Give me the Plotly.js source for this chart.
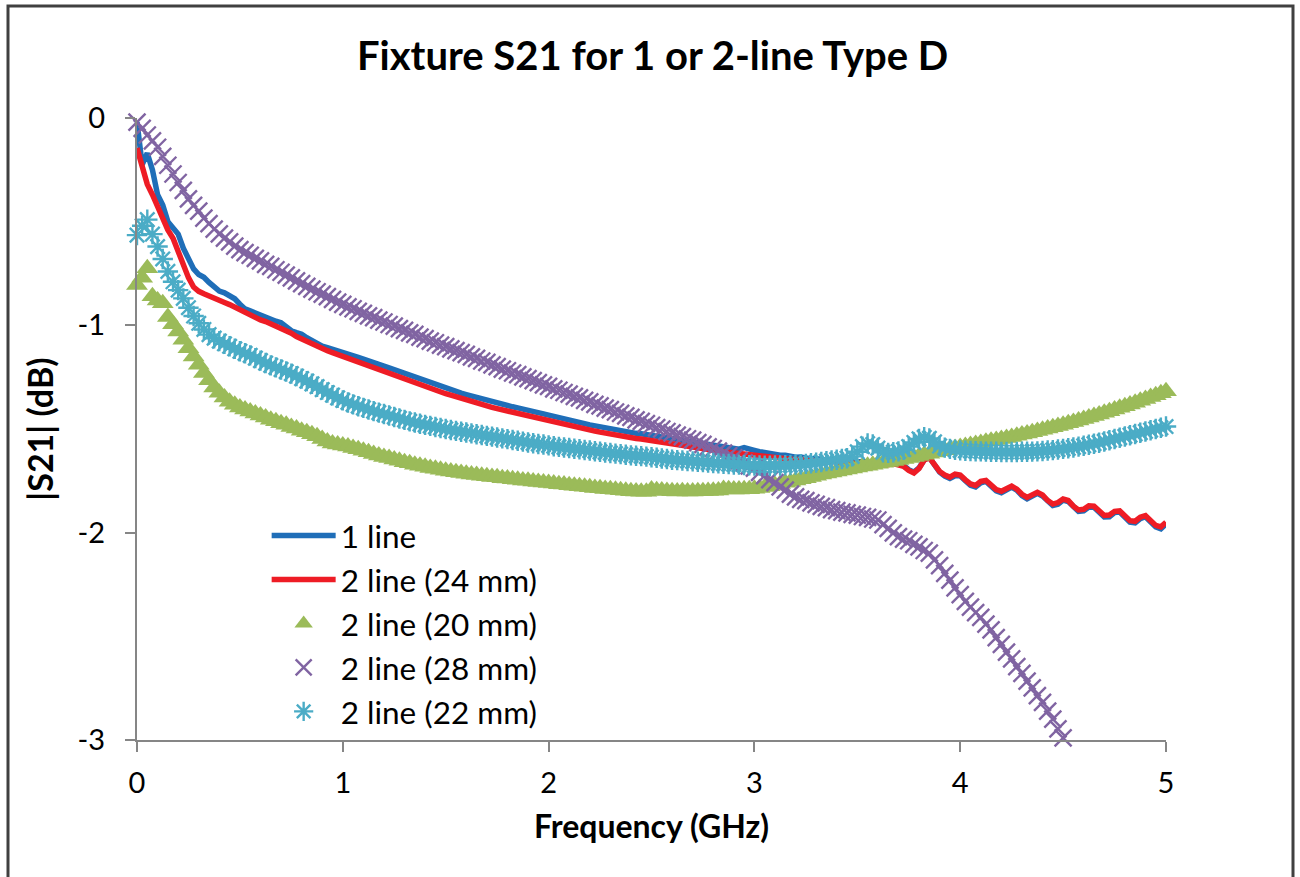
<!DOCTYPE html>
<html>
<head>
<meta charset="utf-8">
<script src="https://cdn.plot.ly/plotly-3.0.1.min.js"></script>
<style>
html,body{margin:0;padding:0;background:#fff;}
#chart{width:1300px;height:877px;}
</style>
</head>
<body>
<div id="chart"></div>
<script>
// Frequency (GHz)
const freq = [
0,0.025,0.05,0.075,0.1,0.125,0.15,0.175,0.2,0.225,
0.25,0.275,0.3,0.325,0.35,0.375,0.4,0.425,0.45,0.475,
0.5,0.525,0.55,0.575,0.6,0.625,0.65,0.675,0.7,0.725,
0.75,0.775,0.8,0.825,0.85,0.875,0.9,0.925,0.95,0.975,
1,1.025,1.05,1.075,1.1,1.125,1.15,1.175,1.2,1.225,
1.25,1.275,1.3,1.325,1.35,1.375,1.4,1.425,1.45,1.475,
1.5,1.525,1.55,1.575,1.6,1.625,1.65,1.675,1.7,1.725,
1.75,1.775,1.8,1.825,1.85,1.875,1.9,1.925,1.95,1.975,
2,2.025,2.05,2.075,2.1,2.125,2.15,2.175,2.2,2.225,
2.25,2.275,2.3,2.325,2.35,2.375,2.4,2.425,2.45,2.475,
2.5,2.525,2.55,2.575,2.6,2.625,2.65,2.675,2.7,2.725,
2.75,2.775,2.8,2.825,2.85,2.875,2.9,2.925,2.95,2.975,
3,3.025,3.05,3.075,3.1,3.125,3.15,3.175,3.2,3.225,
3.25,3.275,3.3,3.325,3.35,3.375,3.4,3.425,3.45,3.475,
3.5,3.525,3.55,3.575,3.6,3.625,3.65,3.675,3.7,3.725,
3.75,3.775,3.8,3.825,3.85,3.875,3.9,3.925,3.95,3.975,
4,4.025,4.05,4.075,4.1,4.125,4.15,4.175,4.2,4.225,
4.25,4.275,4.3,4.325,4.35,4.375,4.4,4.425,4.45,4.475,
4.5,4.525,4.55,4.575,4.6,4.625,4.65,4.675,4.7,4.725,
4.75,4.775,4.8,4.825,4.85,4.875,4.9,4.925,4.95,4.975,
5];

// |S21| (dB) — 1 line
const s21_1line = [
-0.020,-0.225,-0.170,-0.250,-0.370,-0.420,-0.500,-0.527,-0.560,-0.628,
-0.685,-0.728,-0.755,-0.768,-0.793,-0.818,-0.835,-0.843,-0.855,-0.872,
-0.898,-0.921,-0.930,-0.940,-0.951,-0.965,-0.975,-0.980,-0.987,-1.008,
-1.026,-1.035,-1.043,-1.060,-1.075,-1.088,-1.100,-1.107,-1.114,-1.122,
-1.130,-1.138,-1.147,-1.154,-1.163,-1.170,-1.178,-1.187,-1.197,-1.205,
-1.214,-1.223,-1.233,-1.241,-1.251,-1.262,-1.270,-1.278,-1.287,-1.296,
-1.304,-1.311,-1.319,-1.327,-1.334,-1.341,-1.349,-1.357,-1.364,-1.371,
-1.377,-1.383,-1.388,-1.393,-1.398,-1.405,-1.411,-1.417,-1.422,-1.427,
-1.433,-1.438,-1.443,-1.449,-1.455,-1.461,-1.468,-1.474,-1.480,-1.485,
-1.490,-1.495,-1.500,-1.506,-1.512,-1.516,-1.520,-1.521,-1.523,-1.527,
-1.533,-1.536,-1.538,-1.545,-1.551,-1.555,-1.558,-1.562,-1.566,-1.568,
-1.571,-1.576,-1.580,-1.584,-1.587,-1.590,-1.594,-1.597,-1.590,-1.599,
-1.603,-1.609,-1.614,-1.618,-1.623,-1.627,-1.627,-1.632,-1.636,-1.635,
-1.640,-1.644,-1.642,-1.648,-1.651,-1.647,-1.653,-1.656,-1.652,-1.657,
-1.660,-1.656,-1.661,-1.664,-1.660,-1.663,-1.667,-1.663,-1.667,-1.676,
-1.696,-1.708,-1.688,-1.648,-1.637,-1.676,-1.708,-1.727,-1.738,-1.726,
-1.726,-1.750,-1.771,-1.779,-1.760,-1.753,-1.773,-1.798,-1.807,-1.793,
-1.780,-1.795,-1.821,-1.837,-1.826,-1.810,-1.823,-1.851,-1.869,-1.863,
-1.843,-1.850,-1.878,-1.897,-1.895,-1.876,-1.877,-1.903,-1.924,-1.923,
-1.903,-1.900,-1.926,-1.949,-1.953,-1.932,-1.923,-1.946,-1.972,-1.981,
-1.958];

// 2 line (24 mm)
const s21_24mm = [
-0.145,-0.240,-0.320,-0.370,-0.425,-0.495,-0.540,-0.580,-0.645,-0.712,
-0.770,-0.815,-0.836,-0.848,-0.860,-0.872,-0.882,-0.890,-0.900,-0.913,
-0.926,-0.938,-0.951,-0.963,-0.974,-0.982,-0.992,-1.005,-1.015,-1.023,
-1.038,-1.054,-1.066,-1.079,-1.092,-1.103,-1.112,-1.122,-1.132,-1.141,
-1.150,-1.160,-1.170,-1.178,-1.188,-1.196,-1.205,-1.214,-1.225,-1.233,
-1.242,-1.252,-1.262,-1.270,-1.280,-1.290,-1.297,-1.305,-1.313,-1.322,
-1.330,-1.337,-1.345,-1.353,-1.360,-1.367,-1.375,-1.383,-1.390,-1.396,
-1.402,-1.408,-1.413,-1.418,-1.423,-1.430,-1.436,-1.442,-1.447,-1.452,
-1.458,-1.463,-1.468,-1.474,-1.480,-1.486,-1.493,-1.499,-1.505,-1.510,
-1.515,-1.520,-1.525,-1.531,-1.537,-1.541,-1.545,-1.546,-1.548,-1.552,
-1.558,-1.561,-1.563,-1.570,-1.576,-1.580,-1.583,-1.587,-1.591,-1.593,
-1.596,-1.601,-1.605,-1.608,-1.610,-1.612,-1.615,-1.617,-1.618,-1.620,
-1.622,-1.627,-1.631,-1.634,-1.638,-1.641,-1.640,-1.645,-1.648,-1.646,
-1.651,-1.654,-1.652,-1.657,-1.660,-1.656,-1.661,-1.664,-1.660,-1.664,
-1.667,-1.663,-1.667,-1.670,-1.666,-1.668,-1.672,-1.667,-1.671,-1.680,
-1.700,-1.712,-1.690,-1.650,-1.638,-1.675,-1.705,-1.722,-1.732,-1.718,
-1.722,-1.745,-1.765,-1.772,-1.752,-1.748,-1.768,-1.792,-1.800,-1.785,
-1.775,-1.790,-1.815,-1.830,-1.818,-1.805,-1.818,-1.845,-1.862,-1.855,
-1.838,-1.845,-1.872,-1.890,-1.887,-1.870,-1.872,-1.897,-1.917,-1.915,
-1.897,-1.895,-1.920,-1.942,-1.945,-1.925,-1.918,-1.940,-1.965,-1.972,
-1.950];

// 2 line (20 mm)
const s21_20mm = [
-0.805,-0.770,-0.725,-0.860,-0.880,-0.893,-0.960,-0.995,-1.030,-1.070,
-1.110,-1.150,-1.190,-1.230,-1.265,-1.300,-1.325,-1.348,-1.368,-1.383,
-1.396,-1.406,-1.415,-1.425,-1.435,-1.445,-1.455,-1.463,-1.472,-1.480,
-1.490,-1.498,-1.508,-1.516,-1.525,-1.535,-1.548,-1.560,-1.570,-1.575,
-1.580,-1.585,-1.592,-1.598,-1.605,-1.612,-1.620,-1.628,-1.635,-1.640,
-1.647,-1.653,-1.660,-1.665,-1.672,-1.677,-1.682,-1.688,-1.692,-1.697,
-1.701,-1.705,-1.709,-1.712,-1.716,-1.720,-1.722,-1.726,-1.728,-1.731,
-1.733,-1.737,-1.739,-1.742,-1.745,-1.748,-1.750,-1.753,-1.756,-1.758,
-1.760,-1.763,-1.766,-1.768,-1.771,-1.774,-1.776,-1.779,-1.781,-1.784,
-1.786,-1.789,-1.791,-1.793,-1.796,-1.798,-1.800,-1.802,-1.803,-1.803,
-1.792,-1.795,-1.797,-1.799,-1.800,-1.801,-1.800,-1.802,-1.801,-1.800,
-1.800,-1.799,-1.798,-1.797,-1.789,-1.791,-1.792,-1.792,-1.791,-1.790,
-1.788,-1.784,-1.780,-1.776,-1.770,-1.765,-1.759,-1.754,-1.748,-1.742,
-1.737,-1.731,-1.726,-1.720,-1.715,-1.710,-1.705,-1.700,-1.695,-1.690,
-1.686,-1.681,-1.677,-1.672,-1.668,-1.663,-1.659,-1.654,-1.650,-1.645,
-1.640,-1.635,-1.630,-1.624,-1.619,-1.613,-1.607,-1.602,-1.597,-1.592,
-1.587,-1.582,-1.577,-1.572,-1.567,-1.562,-1.557,-1.553,-1.548,-1.543,
-1.538,-1.533,-1.527,-1.522,-1.516,-1.510,-1.504,-1.498,-1.492,-1.486,
-1.479,-1.472,-1.466,-1.459,-1.452,-1.444,-1.437,-1.430,-1.422,-1.414,
-1.406,-1.398,-1.390,-1.382,-1.373,-1.364,-1.355,-1.346,-1.337,-1.327,
-1.318];

// 2 line (28 mm) — continues below the -3 dB floor after 4.5 GHz
const s21_28mm = [
-0.020,-0.050,-0.082,-0.110,-0.141,-0.185,-0.228,-0.270,-0.311,-0.349,
-0.390,-0.421,-0.449,-0.483,-0.509,-0.536,-0.559,-0.579,-0.597,-0.618,
-0.635,-0.649,-0.662,-0.677,-0.689,-0.706,-0.716,-0.732,-0.744,-0.758,
-0.771,-0.786,-0.799,-0.812,-0.825,-0.838,-0.849,-0.862,-0.875,-0.888,
-0.899,-0.911,-0.920,-0.933,-0.942,-0.954,-0.963,-0.975,-0.984,-0.996,
-1.004,-1.016,-1.024,-1.036,-1.044,-1.057,-1.064,-1.076,-1.084,-1.095,
-1.103,-1.114,-1.122,-1.132,-1.140,-1.152,-1.159,-1.172,-1.179,-1.191,
-1.199,-1.211,-1.219,-1.230,-1.238,-1.249,-1.257,-1.267,-1.276,-1.287,
-1.294,-1.306,-1.313,-1.324,-1.332,-1.343,-1.350,-1.362,-1.369,-1.381,
-1.388,-1.399,-1.407,-1.418,-1.425,-1.437,-1.444,-1.456,-1.463,-1.474,
-1.482,-1.493,-1.500,-1.512,-1.519,-1.530,-1.537,-1.547,-1.554,-1.566,
-1.574,-1.586,-1.594,-1.607,-1.616,-1.629,-1.639,-1.653,-1.663,-1.678,
-1.689,-1.709,-1.725,-1.744,-1.759,-1.779,-1.795,-1.814,-1.827,-1.839,
-1.845,-1.856,-1.864,-1.873,-1.879,-1.889,-1.894,-1.901,-1.905,-1.912,
-1.915,-1.922,-1.926,-1.934,-1.939,-1.961,-1.979,-2.001,-2.019,-2.031,
-2.039,-2.056,-2.069,-2.086,-2.099,-2.131,-2.159,-2.196,-2.229,-2.266,
-2.299,-2.331,-2.359,-2.386,-2.409,-2.441,-2.469,-2.506,-2.539,-2.576,
-2.609,-2.646,-2.679,-2.716,-2.749,-2.786,-2.819,-2.861,-2.899,-2.946,
-2.990];

// 2 line (22 mm)
const s21_22mm = [
-0.565,-0.520,-0.490,-0.560,-0.620,-0.680,-0.740,-0.790,-0.830,-0.870,
-0.915,-0.955,-0.990,-1.020,-1.045,-1.062,-1.076,-1.089,-1.101,-1.113,
-1.125,-1.135,-1.145,-1.158,-1.170,-1.182,-1.193,-1.203,-1.213,-1.223,
-1.233,-1.245,-1.257,-1.269,-1.282,-1.296,-1.310,-1.324,-1.337,-1.350,
-1.362,-1.372,-1.381,-1.390,-1.398,-1.406,-1.414,-1.421,-1.428,-1.435,
-1.442,-1.449,-1.456,-1.463,-1.469,-1.475,-1.480,-1.485,-1.490,-1.495,
-1.500,-1.505,-1.509,-1.513,-1.517,-1.521,-1.525,-1.529,-1.533,-1.537,
-1.541,-1.545,-1.549,-1.553,-1.557,-1.561,-1.565,-1.569,-1.572,-1.575,
-1.579,-1.583,-1.586,-1.589,-1.592,-1.595,-1.598,-1.601,-1.604,-1.607,
-1.610,-1.613,-1.616,-1.619,-1.621,-1.624,-1.627,-1.629,-1.631,-1.633,
-1.636,-1.639,-1.642,-1.645,-1.648,-1.650,-1.652,-1.654,-1.656,-1.658,
-1.660,-1.662,-1.664,-1.666,-1.668,-1.669,-1.671,-1.672,-1.674,-1.675,
-1.676,-1.676,-1.677,-1.677,-1.676,-1.676,-1.675,-1.674,-1.672,-1.670,
-1.668,-1.665,-1.662,-1.659,-1.655,-1.652,-1.648,-1.645,-1.641,-1.632,
-1.610,-1.585,-1.570,-1.575,-1.592,-1.612,-1.615,-1.612,-1.608,-1.600,
-1.585,-1.565,-1.548,-1.540,-1.545,-1.562,-1.582,-1.590,-1.596,-1.600,
-1.603,-1.605,-1.606,-1.607,-1.608,-1.609,-1.610,-1.610,-1.611,-1.611,
-1.611,-1.611,-1.610,-1.610,-1.609,-1.608,-1.606,-1.604,-1.602,-1.599,
-1.596,-1.593,-1.589,-1.585,-1.581,-1.576,-1.571,-1.566,-1.560,-1.554,
-1.548,-1.542,-1.536,-1.530,-1.524,-1.518,-1.512,-1.506,-1.500,-1.494,
-1.488];

const seriesNames = ["1 line","2 line (24 mm)","2 line (20 mm)","2 line (28 mm)","2 line (22 mm)"];
const xTickVals = [0,1,2,3,4,5];
const xTickText = ["0","1","2","3","4","5"];
const yTickVals = [0,-1,-2,-3];
const yTickText = ["0","-1","-2","-3"];

const FONT = "Lato, Carlito, 'Open Sans', sans-serif";

const traces = [
  {x: freq, y: s21_1line, name: seriesNames[0], type:'scatter', mode:'lines', legendgroup:'a',
   line:{color:'#1F6EB8', width:5.5}},
  {x: freq, y: s21_24mm, name: seriesNames[1], type:'scatter', mode:'lines', legendgroup:'b',
   line:{color:'#EE1C25', width:5.5}},
  {x: freq, y: s21_20mm, name: seriesNames[2], type:'scatter', mode:'markers', legendgroup:'c', cliponaxis:false,
   marker:{symbol:'triangle-up', size:19, color:'#9BBB59', line:{width:0}}},
  {x: freq.slice(0, s21_28mm.length), y: s21_28mm, name: seriesNames[3], type:'scatter', mode:'markers', legendgroup:'d', cliponaxis:false,
   marker:{symbol:'x-thin-open', size:17, color:'#8064A2', line:{width:2.4, color:'#8064A2'}}},
  {x: freq, y: s21_22mm, name: seriesNames[4], type:'scatter', mode:'markers', legendgroup:'e', cliponaxis:false,
   marker:{symbol:'asterisk-open', size:17, color:'#4BACC6', line:{width:2.4, color:'#4BACC6'}}}
];

const L = 137, R = 134, T = 118, B = 137;
const pw = 1300 - L - R, ph = 877 - T - B;
function px2x(p){ return (p - L) / pw; }
function px2y(p){ return (877 - B - p) / ph; }

const layout = {
  width:1300, height:877,
  margin:{l:L, r:R, t:T, b:B, pad:0},
  paper_bgcolor:'#ffffff', plot_bgcolor:'#ffffff',
  font:{family:FONT, color:'#000'},
  title:{text:'<b>Fixture S21 for 1 or 2-line Type D</b>', font:{family:FONT, size:40, color:'#000'},
         x:0.502, xref:'container', xanchor:'center', y:1-56/877, yref:'container', yanchor:'middle'},
  xaxis:{range:[0,5], tickvals:xTickVals, ticktext:xTickText, ticks:'outside', ticklen:10, tickwidth:2, tickcolor:'#868686',
         showline:true, linecolor:'#868686', linewidth:2, showgrid:false, zeroline:false,
         tickfont:{family:FONT, size:29, color:'#000'}, ticklabelstandoff:6,
         title:{text:'<b>Frequency (GHz)</b>', font:{family:FONT, size:32, color:'#000'}, standoff:18}},
  yaxis:{range:[-3,0], tickvals:yTickVals, ticktext:yTickText, ticks:'outside', ticklen:10, tickwidth:2, tickcolor:'#868686',
         showline:true, linecolor:'#868686', linewidth:2, showgrid:false, zeroline:false,
         tickfont:{family:FONT, size:29, color:'#000'}, ticklabelstandoff:14,
         title:{text:'<b>|S21| (dB)</b>', font:{family:FONT, size:34, color:'#000'}, standoff:14}},
  showlegend:true,
  legend:{x:0.126, y:0.372, xanchor:'left', yanchor:'top', bgcolor:'rgba(0,0,0,0)',
          font:{family:FONT, size:31.5, color:'#000'}, tracegroupgap:2.5, traceorder:'normal', itemwidth:64},
  shapes:[
    {type:'rect', xref:'paper', yref:'paper', x0:px2x(8), x1:px2x(1293), y0:px2y(890), y1:px2y(6),
     line:{color:'#404040', width:3}, fillcolor:'rgba(0,0,0,0)', layer:'below'}
  ]
};

Plotly.newPlot('chart', traces, layout, {staticPlot:true, displayModeBar:false});
</script>
</body>
</html>
